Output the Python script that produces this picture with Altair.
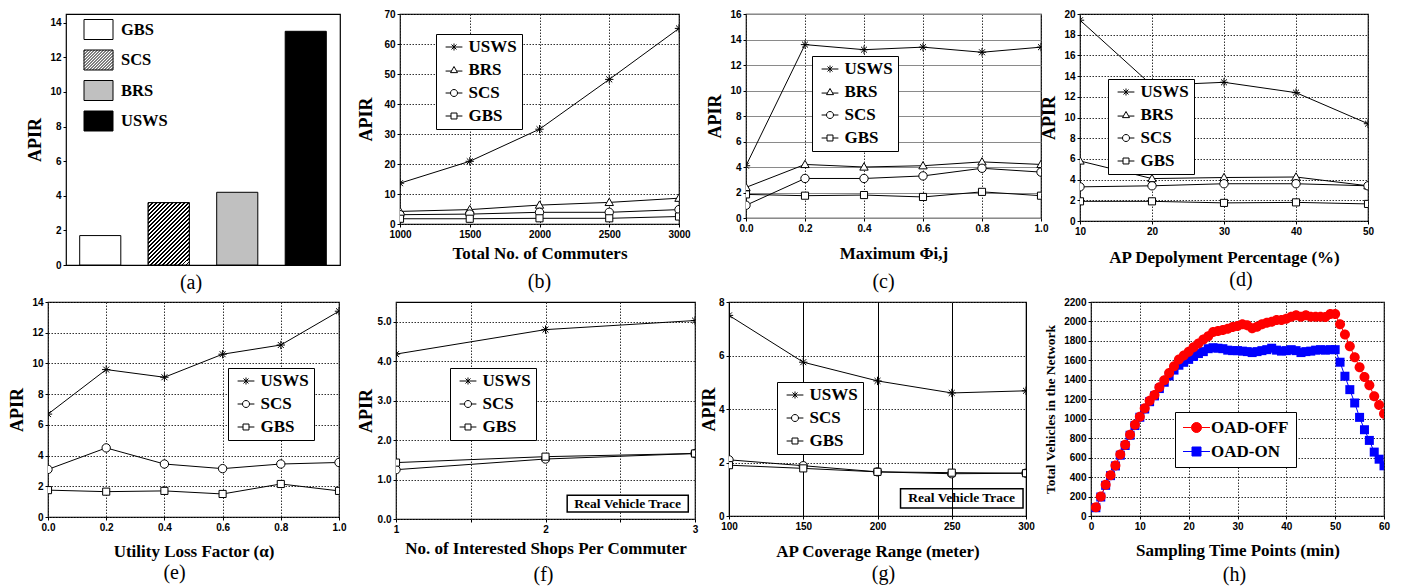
import altair as alt
import pandas as pd

SERIF = "Liberation Serif"
SANS = "Liberation Sans"

# ---------------- data ----------------
a_names = ["GBS", "SCS", "BRS", "USWS"]
a_values = [1.7, 3.6, 4.2, 13.5]

b_x = [1000, 1500, 2000, 2500, 3000]
b_usws = [13.6, 20.9, 31.6, 48.2, 65.2]
b_brs = [4.2, 4.8, 6.3, 7.2, 8.6]
b_scs = [3.1, 3.3, 3.9, 3.9, 4.8]
b_gbs = [1.75, 1.75, 1.9, 1.9, 2.5]

c_x = [0.0, 0.2, 0.4, 0.6, 0.8, 1.0]
c_usws = [4.1, 13.6, 13.2, 13.4, 13.0, 13.4]
c_brs = [2.4, 4.2, 4.0, 4.1, 4.4, 4.2]
c_scs = [1.0, 3.1, 3.1, 3.3, 3.9, 3.6]
c_gbs = [1.85, 1.75, 1.8, 1.65, 2.05, 1.75]

d_x = [10, 20, 30, 40, 50]
d_usws = [19.4, 13.1, 13.4, 12.4, 9.4]
d_brs = [5.8, 4.1, 4.2, 4.25, 3.4]
d_scs = [3.3, 3.4, 3.6, 3.6, 3.4]
d_gbs = [1.9, 1.9, 1.75, 1.8, 1.65]

e_x = [0.0, 0.2, 0.4, 0.6, 0.8, 1.0]
e_usws = [6.7, 9.6, 9.1, 10.6, 11.2, 13.4]
e_scs = [3.1, 4.5, 3.45, 3.15, 3.45, 3.55]
e_gbs = [1.75, 1.65, 1.7, 1.5, 2.15, 1.7]

f_x = [1, 2, 3]
f_usws = [4.18, 4.8, 5.03]
f_scs = [1.25, 1.52, 1.66]
f_gbs = [1.43, 1.58, 1.66]

g_x = [100, 150, 200, 250, 300]
g_usws = [7.5, 5.75, 5.05, 4.6, 4.68]
g_scs = [2.1, 1.88, 1.65, 1.58, 1.6]
g_gbs = [1.9, 1.78, 1.65, 1.62, 1.6]

h_t = list(range(1, 61))
h_off = [89, 200, 320, 420, 520, 633, 732, 835, 938, 1021,
         1107, 1186, 1245, 1323, 1396, 1471, 1540, 1609, 1650, 1688,
         1736, 1774, 1815, 1849, 1891, 1901, 1911, 1925, 1942, 1953,
         1970, 1960, 1929, 1946, 1970, 1987, 1997, 2014, 2014, 2028,
         2049, 2063, 2049, 2063, 2049, 2049, 2049, 2045, 2076, 2076,
         1970, 1867, 1746, 1633, 1530, 1430, 1344, 1231, 1141, 1052]
h_on = [85, 195, 315, 415, 515, 625, 725, 830, 930, 1015,
        1100, 1175, 1235, 1310, 1375, 1440, 1500, 1550, 1580, 1610,
        1640, 1670, 1690, 1720, 1730, 1725, 1720, 1705, 1700, 1700,
        1695, 1690, 1680, 1690, 1700, 1710, 1725, 1705, 1695, 1700,
        1710, 1700, 1680, 1690, 1695, 1705, 1710, 1705, 1710, 1710,
        1581, 1437, 1299, 1162, 1014, 887, 777, 657, 584, 516]
h_names = ["OAD-OFF", "OAD-ON"]
h_colors = ["#ff0000", "#0000ff"]

note_text = "Real Vehicle Trace"
f_note = [2.145, 2.955, 0.18, 0.6, 2.55, 0.39]
g_note = [215.5, 298.0, 0.3, 1.02, 256.7, 0.66]

# ---------------- symbol shapes ----------------
P_STAR = "M0,-1L0,1M-1,0L1,0M-0.71,-0.71L0.71,0.71M-0.71,0.71L0.71,-0.71"
P_TRI = "M0,-1L1,0.75L-1,0.75Z"
P_CIRC = "M1,0A1,1,0,1,1,-1,0A1,1,0,1,1,1,0Z"
P_SQ = "M-0.85,-0.85L0.85,-0.85L0.85,0.85L-0.85,0.85Z"

L_STAR = "M-2.4,0L2.4,0M0,-1L0,1M-0.71,-0.71L0.71,0.71M-0.71,0.71L0.71,-0.71"
L_TRI = "M-2.4,0.3L-0.74,0.3M0.74,0.3L2.4,0.3M0,-1L1,0.75L-1,0.75Z"
L_CIRC = "M-2.4,0L-1,0M1,0L2.4,0M1,0A1,1,0,1,1,-1,0A1,1,0,1,1,1,0Z"
L_SQ = "M-2.4,0L-0.85,0M0.85,0L2.4,0M-0.85,-0.85L0.85,-0.85L0.85,0.85L-0.85,0.85Z"

H_CIRC = "M1,0A1,1,0,1,1,-1,0A1,1,0,1,1,1,0Z"
H_SQ = "M-0.9,-0.9L0.9,-0.9L0.9,0.9L-0.9,0.9Z"
HL_CIRC = "M-2.7,0L-1,0M1,0L2.7,0M1,0A1,1,0,1,1,-1,0A1,1,0,1,1,1,0Z"
HL_SQ = "M-2.7,0L-0.9,0M0.9,0L2.7,0M-0.9,-0.9L0.9,-0.9L0.9,0.9L-0.9,0.9Z"

IND = dict(fill="independent", stroke="independent", shape="independent")


def rect_path(hw=1.45, hh=1.0):
    return f"M{-hw},{-hh}L{hw},{-hh}L{hw},{hh}L{-hw},{hh}Z"


def hatch_rect_path(hw=1.45, hh=1.0, step=0.3):
    p = rect_path(hw, hh)
    c = -(hw + hh) + step / 2
    while c < hw + hh:
        x1 = max(-hw, c - hh)
        x2 = min(hw, c + hh)
        if x2 > x1:
            p += f"M{x1:.3f},{c - x1:.3f}L{x2:.3f},{c - x2:.3f}"
        c += step
    return p


def dotted(color="#333333"):
    return dict(grid=True, gridColor=color, gridDash=[1.5, 1.5], gridWidth=1)


def solid(color):
    return dict(grid=True, gridColor=color, gridWidth=1)


def caption(text, offset, dx):
    return alt.TitleParams(text=text, orient="bottom", anchor="middle", frame="group",
                           font=SERIF, fontSize=20, fontWeight="normal", color="black",
                           offset=offset, dx=dx)


def spacer(w, h):
    return alt.Chart(pd.DataFrame({"v": [0]})).mark_point(opacity=0).encode(
        x=alt.X("v:Q", axis=None), y=alt.Y("v:Q", axis=None)
    ).properties(width=w, height=h, view=alt.ViewBackground(stroke="transparent"))


def legend_layer(data, field, names, fills, strokes, paths, legend, x_enc, y_enc):
    return alt.Chart(data).transform_filter("false").mark_point(
        filled=True, strokeWidth=1, opacity=1).encode(
        x_enc, y_enc,
        fill=alt.Fill(field, scale=alt.Scale(domain=names, range=fills), legend=legend),
        stroke=alt.Stroke(field, scale=alt.Scale(domain=names, range=strokes), legend=legend),
        shape=alt.Shape(field, scale=alt.Scale(domain=names, range=paths), legend=legend))


def line_legend(lx, ly):
    return alt.Legend(title=None, orient="none", legendX=lx, legendY=ly, direction="vertical",
                      strokeColor="black", fillColor="white", padding=4.5,
                      labelFont=SERIF, labelFontWeight="bold", labelFontSize=17, labelColor="black",
                      labelLimit=300, symbolSize=49, symbolStrokeWidth=1, symbolOffset=5,
                      labelOffset=6, rowPadding=5, symbolFillColor="white",
                      symbolStrokeColor="black")


def line_panel(xs, names, ys_list, plot_paths, leg_paths, xdom, ydom, xvals, yvals, xtitle,
               cap, w, h, legxy, xgrid, ygrid, xpad, ypad, cap_off, cap_dx,
               xfmt=None, yfmt=None, xlabel_expr=None, note=None, note_fill="white"):
    rows = []
    for name, ys in zip(names, ys_list):
        for xv, yv in zip(xs, ys):
            rows.append({"x": xv, "y": yv, "s": name})
    df = pd.DataFrame(rows)
    xax = dict(values=xvals, title=xtitle, titlePadding=xpad, **xgrid)
    if xfmt:
        xax["format"] = xfmt
    if xlabel_expr:
        xax["labelExpr"] = xlabel_expr
    yax = dict(values=yvals, title="APIR", titlePadding=ypad, **ygrid)
    if yfmt:
        yax["format"] = yfmt
    X = alt.X("x:Q", scale=alt.Scale(domain=xdom, nice=False, zero=False), axis=alt.Axis(**xax))
    Y = alt.Y("y:Q", scale=alt.Scale(domain=ydom, nice=False, zero=False), axis=alt.Axis(**yax))
    base = alt.Chart(df)
    layers = []
    if note is not None:
        ndf = pd.DataFrame({"x": [note[0]], "x2": [note[1]], "y": [note[2]], "y2": [note[3]],
                            "tx": [note[4]], "ty": [note[5]], "t": [note_text]})
        layers.append(alt.Chart(ndf).mark_rect(fill=note_fill, stroke="black", strokeWidth=1.5).encode(
            x="x:Q", x2="x2:Q", y="y:Q", y2="y2:Q"))
        layers.append(alt.Chart(ndf).mark_text(font=SERIF, fontWeight="bold", fontSize=13.5,
                                               color="black", baseline="middle", align="center").encode(
            x="tx:Q", y="ty:Q", text="t:N"))
    lines = base.mark_line(color="black", strokeWidth=1, clip=True).encode(X, Y, detail="s:N")
    pts = base.mark_point(filled=True, fill="white", stroke="black", strokeWidth=1, size=70,
                          opacity=1, clip=True).encode(
        X, Y, shape=alt.Shape("s:N", scale=alt.Scale(domain=names, range=plot_paths), legend=None))
    k = len(names)
    leg = legend_layer(df, "s:N", names, ["white"] * k, ["black"] * k, leg_paths,
                       line_legend(*legxy), X, Y)
    ch = alt.layer(lines, pts, leg, *layers).resolve_scale(**IND)
    return ch.properties(width=w, height=h, title=caption(cap, cap_off, cap_dx))


# ---------------- panel (a) ----------------
adf = pd.DataFrame({"name": a_names, "value": a_values})
a_fills = ["white", "white", "#c0c0c0", "black"]
aX = alt.X("name:N", sort=a_names, axis=None,
           scale=alt.Scale(domain=a_names, paddingInner=0.4, paddingOuter=0.2))
aY = alt.Y("value:Q", scale=alt.Scale(domain=[0, 14.5], nice=False),
           axis=alt.Axis(values=list(range(0, 15, 2)), title="APIR", titlePadding=5))
n_str = 26
stops = []
for i in range(n_str):
    o = i / n_str
    o2 = o + 0.42 / n_str
    stops += [alt.GradientStop(offset=round(o, 4), color="black"),
              alt.GradientStop(offset=round(o2, 4), color="black"),
              alt.GradientStop(offset=round(o2, 4), color="white"),
              alt.GradientStop(offset=round((i + 1) / n_str, 4), color="white")]
hatch_fill = alt.LinearGradient(gradient="linear", stops=stops, x1=0, y1=0, x2=0.761, y2=1.157)

a_bars = alt.Chart(adf).mark_bar(stroke="black", strokeWidth=1).encode(
    aX, aY, fill=alt.Fill("name:N", scale=alt.Scale(domain=a_names, range=a_fills), legend=None))
a_hatch = alt.Chart(adf).transform_filter(alt.datum.name == "SCS").mark_bar(
    stroke="black", strokeWidth=1, fill=hatch_fill).encode(aX, aY)
a_leg_paths = [rect_path(), hatch_rect_path(), rect_path(), rect_path()]
a_legend = alt.Legend(title=None, orient="none", legendX=22, legendY=5, direction="vertical",
                      padding=0, labelFont=SERIF, labelFontWeight="bold", labelFontSize=16.5,
                      labelColor="black", symbolSize=400, symbolStrokeWidth=1, labelOffset=12,
                      rowPadding=5.5, symbolFillColor="white", symbolStrokeColor="black")
a_leg = legend_layer(adf, "name:N", a_names, a_fills, ["black"] * 4, a_leg_paths, a_legend, aX, aY)
panel_a = alt.layer(a_bars, a_hatch, a_leg).resolve_scale(**IND).properties(
    width=274, height=251, title=caption("(a)", 3, -12))

# ---------------- line panels ----------------
n4 = ["USWS", "BRS", "SCS", "GBS"]
p4 = [P_STAR, P_TRI, P_CIRC, P_SQ]
l4 = [L_STAR, L_TRI, L_CIRC, L_SQ]
n3 = ["USWS", "SCS", "GBS"]
p3 = [P_STAR, P_CIRC, P_SQ]
l3 = [L_STAR, L_CIRC, L_SQ]

panel_b = line_panel(b_x, n4, [b_usws, b_brs, b_scs, b_gbs], p4, l4, [1000, 3000], [0, 70],
                     b_x, list(range(0, 71, 10)), "Total No. of Commuters", "(b)", 279, 210,
                     (36, 20), dotted(), dotted(), 6.6, 8, 10, 0, xfmt="d")
panel_c = line_panel(c_x, n4, [c_usws, c_brs, c_scs, c_gbs], p4, l4, [0, 1], [0, 16],
                     c_x, list(range(0, 17, 2)), "Maximum \u03a6i,j", "(c)", 295, 204,
                     (66, 42), dotted(), solid("#8a8a8a"), 12.6, 5, 10, -10, xfmt=".1f")
panel_d = line_panel(d_x, n4, [d_usws, d_brs, d_scs, d_gbs], p4, l4, [10, 50], [0, 20],
                     d_x, list(range(0, 21, 2)), "AP Depolyment Percentage (%)", "(d)", 288, 207,
                     (28, 65), dotted(), dotted(), 13.6, 5, 4, 17)
panel_e = line_panel(e_x, n3, [e_usws, e_scs, e_gbs], p3, l3, [0, 1], [0, 14],
                     e_x, list(range(0, 15, 2)), "Utility Loss Factor (\u03b1)", "(e)", 291, 215,
                     (180, 66), dotted(), dotted(), 11, 5, 4, -19, xfmt=".1f")
panel_f = line_panel(f_x, n3, [f_usws, f_scs, f_gbs], p3, l3, [1, 3], [0, 5.5],
                     [1, 1.5, 2, 2.5, 3], [i * 0.5 for i in range(12)],
                     "No. of Interested Shops Per Commuter", "(f)", 299, 217,
                     (54, 66), dotted(), dotted(), 6, 2, 9, -2, yfmt=".1f",
                     xlabel_expr="datum.value % 1 === 0 ? format(datum.value, 'd') : ''",
                     note=f_note)
panel_g = line_panel(g_x, n3, [g_usws, g_scs, g_gbs], p3, l3, [100, 300], [0, 8],
                     g_x, list(range(0, 9)), "AP Coverage Range (meter)", "(g)", 297, 214,
                     (48, 80), solid("black"), dotted(), 12, 0, 5, 6, note=g_note,
                     note_fill="transparent")

# ---------------- panel (h) ----------------
hrows = []
for name, ys in [("OAD-ON", h_on), ("OAD-OFF", h_off)]:
    for t, v in zip(h_t, ys):
        hrows.append({"t": t, "v": v, "s": name})
hdf = pd.DataFrame(hrows)
hX = alt.X("t:Q", scale=alt.Scale(domain=[0, 60], nice=False),
           axis=alt.Axis(values=list(range(0, 61, 10)), title="Sampling Time Points (min)",
                         titlePadding=11, **dotted()))
hY = alt.Y("v:Q", scale=alt.Scale(domain=[0, 2200], nice=False),
           axis=alt.Axis(values=list(range(0, 2201, 200)), title="Total Vehicles in the Network",
                         titleFontSize=13.5, titlePadding=6, format="d", **dotted()))
hcol = alt.Scale(domain=h_names, range=h_colors)
h_lines = alt.Chart(hdf).mark_line(strokeWidth=1, clip=True).encode(
    hX, hY, color=alt.Color("s:N", scale=hcol, legend=None))
h_pts = alt.Chart(hdf).mark_point(filled=True, size=100, opacity=1, strokeWidth=0, clip=True).encode(
    hX, hY, color=alt.Color("s:N", scale=hcol, legend=None),
    shape=alt.Shape("s:N", scale=alt.Scale(domain=h_names, range=[H_CIRC, H_SQ]), legend=None))
h_legend = alt.Legend(title=None, orient="none", legendX=84, legendY=110, direction="vertical",
                      strokeColor="black", fillColor="white", padding=7,
                      labelFont=SERIF, labelFontWeight="bold", labelFontSize=17, labelColor="black",
                      labelLimit=300, symbolSize=100, symbolStrokeWidth=1, symbolOffset=6,
                      labelOffset=6, rowPadding=6, symbolFillColor="white",
                      symbolStrokeColor="black")
h_leg = legend_layer(hdf, "s:N", h_names, h_colors, h_colors, [HL_CIRC, HL_SQ], h_legend, hX, hY)
panel_h = alt.layer(h_lines, h_pts, h_leg).resolve_scale(**IND).properties(
    width=293, height=214, title=caption("(h)", 7, -3))

# ---------------- layout ----------------
row1 = alt.hconcat(spacer(18, 251), panel_a, spacer(60, 251), panel_b, spacer(67, 251), panel_c,
                   spacer(39, 251), panel_d, spacing=0, bounds="flush").resolve_scale(**IND)
row2 = alt.hconcat(panel_e, spacer(57, 214), panel_f, spacer(34, 214), panel_g, spacer(65, 214),
                   panel_h, spacing=0, bounds="flush").resolve_scale(**IND)

chart = alt.vconcat(row1, row2, spacing=2).resolve_scale(**IND).properties(padding=0).configure_view(
    stroke="black", strokeWidth=1.2
).configure_axis(
    labelFont=SANS, labelFontWeight="bold", labelFontSize=10, labelColor="black",
    titleFont=SERIF, titleFontWeight="bold", titleFontSize=17, titleColor="black",
    domain=False, ticks=True, tickColor="black", tickSize=3, labelPadding=2,
    labelFlush=False, labelOverlap=False, grid=False
).configure_axisY(titleFontSize=18)

chart.save("out.html", embed_options={"renderer": "svg", "actions": False})
